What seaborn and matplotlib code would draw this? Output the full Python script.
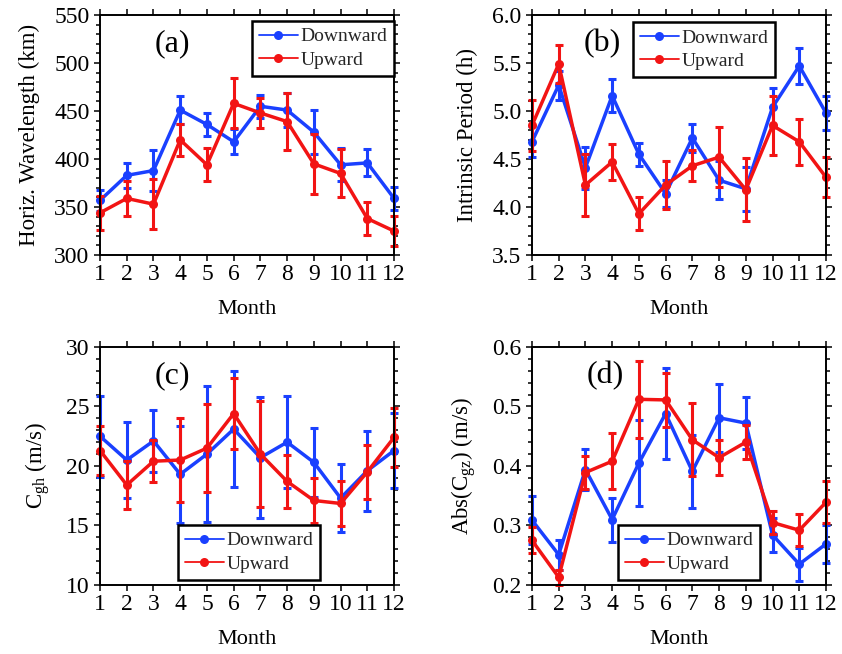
import matplotlib
matplotlib.use("Agg")
import matplotlib.pyplot as plt
from matplotlib.lines import Line2D
from matplotlib.ticker import MultipleLocator
import seaborn as sns
import pandas as pd
import numpy as np

months = list(range(1, 13))

# (a) horizontal wavelength (km)
wl_down = [357, 383, 388, 451, 436, 418, 455, 451, 428, 394, 396, 359]
wl_down_err = [11, 13, 21, 15, 12, 13, 12, 18, 23, 17, 14, 12]
wl_up = [344, 359, 353, 420, 394, 458, 448, 439, 395, 385, 338, 325]
wl_up_err = [18, 18, 26, 17, 17, 26, 16, 30, 31, 25, 17, 16]

# (b) intrinsic period (h)
per_down = [4.68, 5.27, 4.41, 5.16, 4.55, 4.14, 4.72, 4.28, 4.19, 5.04, 5.47, 4.98]
per_down_err = [0.16, 0.15, 0.22, 0.17, 0.12, 0.14, 0.15, 0.2, 0.23, 0.2, 0.19, 0.18]
per_up = [4.85, 5.49, 4.23, 4.47, 3.93, 4.23, 4.43, 4.52, 4.18, 4.85, 4.68, 4.31]
per_up_err = [0.27, 0.2, 0.32, 0.19, 0.17, 0.25, 0.16, 0.31, 0.33, 0.31, 0.24, 0.21]

# (c) horizontal group velocity (m/s)
cgh_down = [22.5, 20.5, 22.1, 19.3, 21.0, 23.1, 20.7, 22.0, 20.3, 17.3, 19.6, 21.3]
cgh_down_err = [3.4, 3.2, 2.6, 4.1, 5.7, 4.85, 5.1, 3.85, 2.9, 2.85, 3.35, 3.15]
cgh_up = [21.3, 18.4, 20.4, 20.5, 21.5, 24.4, 21.0, 18.7, 17.1, 16.85, 19.5, 22.4]
cgh_up_err = [2.05, 2.0, 1.75, 3.5, 3.7, 2.95, 4.45, 2.25, 1.85, 1.9, 2.25, 2.45]

# (d) abs vertical group velocity (m/s)
cgz_down = [0.309, 0.251, 0.394, 0.310, 0.405, 0.488, 0.391, 0.481, 0.472, 0.284, 0.235, 0.269]
cgz_down_err = [0.04, 0.025, 0.035, 0.037, 0.072, 0.076, 0.061, 0.057, 0.044, 0.028, 0.028, 0.032]
cgz_up = [0.275, 0.213, 0.389, 0.408, 0.512, 0.511, 0.444, 0.414, 0.440, 0.305, 0.292, 0.339]
cgz_up_err = [0.022, 0.013, 0.027, 0.047, 0.065, 0.045, 0.061, 0.029, 0.029, 0.019, 0.027, 0.035]

blue = '#1a40ff'
red = '#f21414'

sns.set_theme(style="white")
plt.rcParams['font.family'] = ['Liberation Serif', 'DejaVu Serif']
plt.rcParams['mathtext.fontset'] = 'custom'
plt.rcParams['mathtext.rm'] = 'Liberation Serif'
plt.rcParams['mathtext.it'] = 'Liberation Serif'

fig = plt.figure(figsize=(8.42, 6.54), dpi=100)

panels = [
    dict(pos=[0.1188, 0.610, 0.3492, 0.367], down=wl_down, derr=wl_down_err, up=wl_up, uerr=wl_up_err,
         ylim=(300, 550), major=50, minor=10, ylabel='Horiz. Wavelength (km)', tag='(a)', tagx=0.245,
         leg=(0.517, 0.975), fmt='{:.0f}'),
    dict(pos=[0.6318, 0.610, 0.3492, 0.367], down=per_down, derr=per_down_err, up=per_up, uerr=per_up_err,
         ylim=(3.5, 6.0), major=0.5, minor=0.1, ylabel='Intrinsic Period (h)', tag='(b)', tagx=0.238,
         leg=(0.344, 0.970), fmt='{:.1f}'),
    dict(pos=[0.1188, 0.1055, 0.3492, 0.364], down=cgh_down, derr=cgh_down_err, up=cgh_up, uerr=cgh_up_err,
         ylim=(10, 30), major=5, minor=1, ylabel=r'$\mathregular{C_{gh}}$ (m/s)', tag='(c)', tagx=0.245,
         leg=(0.265, 0.252), fmt='{:.0f}'),
    dict(pos=[0.6318, 0.1055, 0.3492, 0.364], down=cgz_down, derr=cgz_down_err, up=cgz_up, uerr=cgz_up_err,
         ylim=(0.2, 0.6), major=0.1, minor=0.02, ylabel=r'Abs($\mathregular{C_{gz}}$) (m/s)', tag='(d)', tagx=0.25,
         leg=(0.293, 0.252), fmt='{:.1f}'),
]

for p in panels:
    ax = fig.add_axes(p['pos'])
    df = pd.DataFrame({'Month': months * 2,
                       'value': p['down'] + p['up'],
                       'dir': ['Downward'] * 12 + ['Upward'] * 12})
    for name, err, col in [('Downward', p['derr'], blue), ('Upward', p['uerr'], red)]:
        sub = df[df['dir'] == name]
        ax.errorbar(sub['Month'], sub['value'], yerr=err, fmt='none', ecolor=col,
                    elinewidth=2.2, capsize=3.2, capthick=2.2, clip_on=False)
        sns.lineplot(data=sub, x='Month', y='value', ax=ax, color=col, lw=2.5,
                     marker='o', markersize=6.5, markeredgewidth=0, clip_on=False, legend=False)

    ax.set_xlim(1, 12)
    ax.set_ylim(*p['ylim'])
    ax.set_xticks(months)
    ax.set_xticklabels([str(m) for m in months])
    ax.yaxis.set_major_locator(MultipleLocator(p['major']))
    ax.yaxis.set_minor_locator(MultipleLocator(p['minor']))
    ax.set_yticklabels([p['fmt'].format(v) for v in ax.get_yticks()])
    ax.set_ylim(*p['ylim'])
    ax.tick_params(which='both', direction='out', top=True, right=True, left=True, bottom=True,
                   color='black', width=1.1, labelsize=17, colors='black')
    ax.tick_params(which='major', length=4.5, pad=2)
    ax.tick_params(axis='y', which='major', pad=3)
    ax.tick_params(which='minor', length=3)
    ax.tick_params(axis='x', which='minor', bottom=False, top=False)
    for s in ax.spines.values():
        s.set_color('black')
        s.set_linewidth(1.4)
    ax.set_xlabel('Month', fontsize=16, color='black', labelpad=11)
    ax.set_ylabel(p['ylabel'], fontsize=16.5, color='black', labelpad=10)
    ax.text(p['tagx'], 0.88, p['tag'], transform=ax.transAxes, fontsize=23,
            ha='center', va='center', color='black')

    handles = [Line2D([], [], color=blue, lw=1.3, marker='o', markersize=6.5, markeredgewidth=0),
               Line2D([], [], color=red, lw=1.3, marker='o', markersize=6.5, markeredgewidth=0)]
    leg = ax.legend(handles, ['Downward', 'Upward'], loc='upper left', bbox_to_anchor=p['leg'],
                    fontsize=14, frameon=True, fancybox=False, framealpha=1, edgecolor='black',
                    borderpad=0.35, labelspacing=0.3, handlelength=2.0, handletextpad=0.15,
                    borderaxespad=0)
    leg.get_frame().set_linewidth(1.8)

fig.savefig('out.png', dpi=100)
